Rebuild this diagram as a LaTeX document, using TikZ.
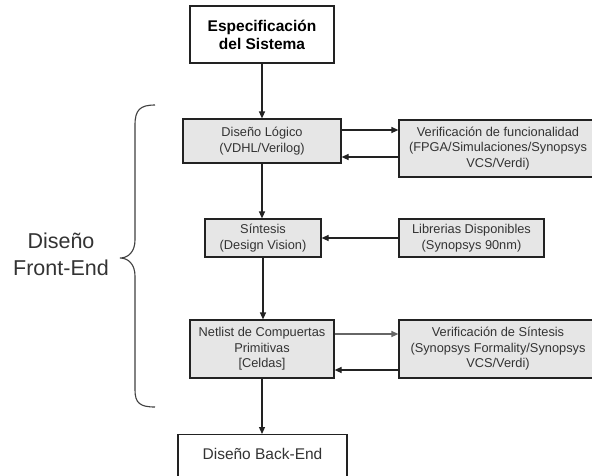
\documentclass[tikz,border=0pt]{standalone}
\usepackage{fontspec}
\setmainfont{Liberation Sans}
\usetikzlibrary{arrows.meta}
\definecolor{boxfill}{HTML}{E6E6E6}
\definecolor{linec}{HTML}{222222}
\definecolor{textc}{HTML}{333333}
\begin{document}
\begin{tikzpicture}[x=1pt,y=-1pt,
  box/.style={draw=linec,line width=1.2pt,fill=boxfill,rectangle,inner sep=0pt,align=center,text=textc,
    font=\fontsize{12.8}{15.5}\selectfont},
  wbox/.style={box,fill=white},
  conn/.style={draw=linec,line width=1.2pt,-{Triangle[length=7pt,width=6pt]}}]
\useasboundingbox (0,0) rectangle (592,475);
\fill[white] (0,0) rectangle (592,475);
\node[wbox,minimum width=144pt,minimum height=57pt,text=black,font=\fontsize{15.5}{18}\selectfont\bfseries] (esp) at (262,34.5) {Especificación\\del Sistema};
\node[box,minimum width=158pt,minimum height=44pt] (dl) at (262,141) {Diseño Lógico\\(VDHL/Verilog)};
\node[box,minimum width=198pt,minimum height=57pt] (vf) at (498,148.5) {Verificación de funcionalidad\\(FPGA/Simulaciones/Synopsys\\VCS/Verdi)};
\node[box,minimum width=116pt,minimum height=38pt] (sin) at (263,238) {Síntesis\\(Design Vision)};
\node[box,minimum width=145pt,minimum height=38pt] (lib) at (471.5,238) {Librerias Disponibles\\(Synopsys 90nm)};
\node[box,minimum width=144pt,minimum height=58pt] (net) at (262,349) {Netlist de Compuertas\\Primitivas\\{[}Celdas{]}};
\node[box,minimum width=198pt,minimum height=58pt] (vs) at (498,349) {Verificación de Síntesis\\(Synopsys Formality/Synopsys\\VCS/Verdi)};
\node[wbox,minimum width=169pt,minimum height=80pt,anchor=north] (be) at (262.5,434) {};
\node[text=textc,font=\fontsize{15.5}{18}\selectfont] (bet) at (262.5,454) {Diseño Back-End};
\node[text=textc,align=center,font=\fontsize{21.5}{27}\selectfont] (fe) at (61,254) {Diseño\\Front-End};
% connectors
\draw[conn] (esp.south -| dl.north) -- (dl.north);
\draw[conn] (dl.south) -- (dl.south |- sin.north);
\draw[conn] (sin.south) -- (sin.south |- net.north);
\draw[conn] (net.south) -- (net.south |- be.north);
\draw[conn] ([yshift=11pt]dl.east) -- ([yshift=11pt]dl.east -| vf.west);
\draw[conn] ([yshift=-16pt]dl.east -| vf.west) -- ([yshift=-16pt]dl.east);
\draw[conn] (lib.west |- sin.east) -- (sin.east);
\draw[conn,draw=black!60] ([yshift=15pt]net.east) -- ([yshift=15pt]net.east -| vs.west);
\draw[conn] ([yshift=-21pt]net.east -| vs.west) -- ([yshift=-21pt]net.east);
% brace
\coordinate (bt) at (155,105);
\coordinate (bm) at (120,258);
\coordinate (bb) at (155,407);
\draw[draw=black!75,line width=1.1pt] (bt) .. controls (140,105) and (135,110) .. (135,125)
  -- (135,240) .. controls (135,252) and (128,258) .. (bm)
  .. controls (128,258) and (135,264) .. (135,276)
  -- (135,390) .. controls (135,403) and (140,407) .. (bb);
\end{tikzpicture}
\end{document}
